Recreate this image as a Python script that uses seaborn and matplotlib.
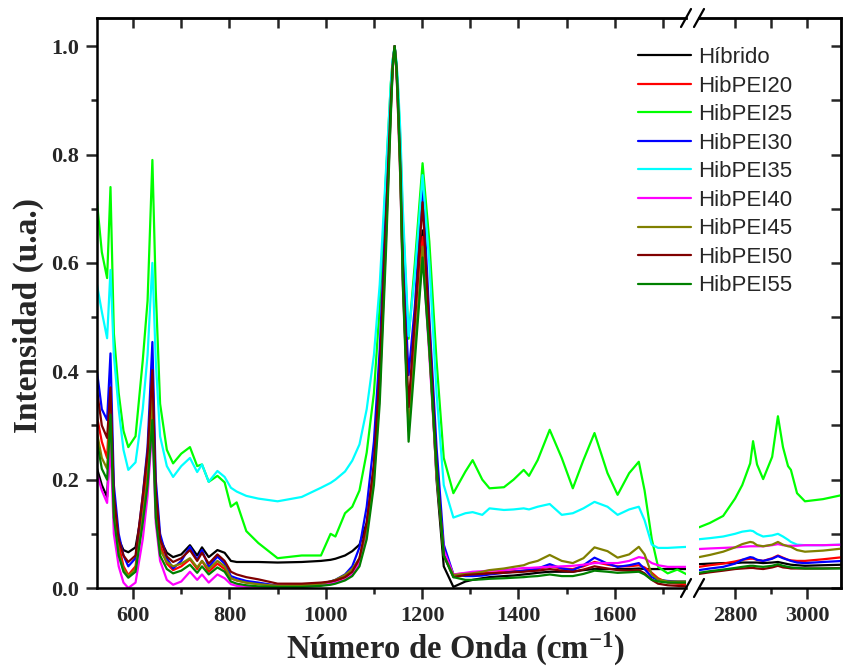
import numpy as np
import pandas as pd
import seaborn as sns
import matplotlib
matplotlib.use("Agg")
import matplotlib.pyplot as plt
from matplotlib.lines import Line2D

# ---------------- data ----------------
names = ["Híbrido", "HibPEI20", "HibPEI25", "HibPEI30", "HibPEI35",
         "HibPEI40", "HibPEI45", "HibPEI50", "HibPEI55"]
colors = ["#000000", "#FF0000", "#00FF00", "#0000FF", "#00FFFF",
          "#FF00FF", "#808000", "#800000", "#008000"]

x_left = [522, 535, 546, 553, 560, 570, 580, 590, 605, 620, 630, 640, 647, 656,
          670, 683, 700, 718, 733, 743, 757, 775, 790, 803, 815, 835, 860, 900,
          950, 990, 1010, 1020, 1040, 1055, 1070, 1085, 1100, 1112, 1125, 1135,
          1139, 1143, 1147, 1150, 1155, 1160, 1172, 1185, 1201, 1215, 1230, 1245, 1265, 1290, 1305,
          1325, 1340, 1370, 1390, 1411, 1422, 1440, 1465, 1490, 1513, 1535, 1558,
          1585, 1606, 1630, 1650, 1662, 1677, 1690, 1710, 1730, 1752]

hibrido_l = [0.23, 0.19, 0.168, 0.30, 0.14, 0.09, 0.07, 0.066, 0.075, 0.15, 0.21, 0.33, 0.16, 0.09,
             0.065, 0.057, 0.062, 0.079, 0.06, 0.075, 0.057, 0.07, 0.065, 0.05, 0.048, 0.048, 0.048, 0.047,
             0.048, 0.05, 0.052, 0.054, 0.06, 0.068, 0.08, 0.12, 0.22, 0.38, 0.66, 0.89,
             0.965, 1.0, 0.955, 0.89, 0.77, 0.58, 0.30, 0.46, 0.66, 0.46, 0.20, 0.04, 0.002, 0.012, 0.015,
             0.018, 0.02, 0.022, 0.023, 0.025, 0.026, 0.028, 0.03, 0.03, 0.03, 0.033, 0.035,
             0.035, 0.035, 0.035, 0.036, 0.035, 0.035, 0.035, 0.035, 0.035, 0.035]
pei20_l = [0.33, 0.27, 0.24, 0.37, 0.16, 0.08, 0.04, 0.024, 0.04, 0.14, 0.22, 0.378, 0.16, 0.08,
           0.045, 0.033, 0.04, 0.053, 0.035, 0.05, 0.03, 0.045, 0.035, 0.018, 0.014, 0.01, 0.008, 0.004,
           0.005, 0.008, 0.01, 0.012, 0.02, 0.03, 0.05, 0.11, 0.22, 0.38, 0.66, 0.89,
           0.965, 1.0, 0.955, 0.89, 0.77, 0.58, 0.297, 0.45, 0.648, 0.45, 0.22, 0.07, 0.025, 0.027, 0.028,
           0.027, 0.028, 0.03, 0.031, 0.032, 0.033, 0.035, 0.04, 0.036, 0.035, 0.04, 0.048,
           0.043, 0.04, 0.04, 0.042, 0.038, 0.028, 0.018, 0.01, 0.008, 0.007]
pei25_l = [0.74, 0.62, 0.572, 0.74, 0.47, 0.36, 0.29, 0.26, 0.28, 0.42, 0.53, 0.79, 0.55, 0.34,
           0.255, 0.23, 0.248, 0.26, 0.225, 0.228, 0.196, 0.207, 0.195, 0.15, 0.158, 0.105, 0.083, 0.055,
           0.06, 0.06, 0.10, 0.095, 0.138, 0.15, 0.18, 0.25, 0.36, 0.52, 0.76, 0.93,
           0.975, 1.0, 0.965, 0.92, 0.82, 0.68, 0.46, 0.60, 0.784, 0.64, 0.42, 0.24, 0.175, 0.215, 0.236,
           0.20, 0.184, 0.186, 0.20, 0.218, 0.207, 0.236, 0.292, 0.24, 0.184, 0.236, 0.286,
           0.212, 0.172, 0.212, 0.233, 0.18, 0.09, 0.039, 0.027, 0.034, 0.024]
pei30_l = [0.42, 0.33, 0.31, 0.433, 0.19, 0.10, 0.06, 0.04, 0.055, 0.17, 0.26, 0.454, 0.20, 0.10,
           0.055, 0.036, 0.05, 0.076, 0.052, 0.07, 0.039, 0.058, 0.045, 0.022, 0.018, 0.013, 0.01, 0.004,
           0.004, 0.008, 0.012, 0.015, 0.025, 0.04, 0.075, 0.15, 0.27, 0.44, 0.70, 0.90,
           0.97, 1.0, 0.96, 0.90, 0.79, 0.62, 0.393, 0.52, 0.75, 0.50, 0.26, 0.08, 0.025, 0.022, 0.022,
           0.023, 0.025, 0.028, 0.03, 0.032, 0.033, 0.036, 0.044, 0.036, 0.033, 0.042, 0.056,
           0.045, 0.039, 0.042, 0.046, 0.035, 0.02, 0.015, 0.013, 0.012, 0.012]
pei35_l = [0.575, 0.51, 0.461, 0.587, 0.43, 0.33, 0.255, 0.218, 0.232, 0.33, 0.43, 0.60, 0.42, 0.28,
           0.225, 0.205, 0.225, 0.24, 0.214, 0.228, 0.196, 0.216, 0.205, 0.185, 0.178, 0.17, 0.165, 0.16,
           0.168, 0.185, 0.194, 0.20, 0.215, 0.235, 0.265, 0.33, 0.43, 0.56, 0.77, 0.93,
           0.975, 1.0, 0.97, 0.93, 0.84, 0.70, 0.465, 0.58, 0.762, 0.60, 0.36, 0.19, 0.13, 0.138, 0.14,
           0.135, 0.147, 0.144, 0.145, 0.147, 0.145, 0.15, 0.155, 0.135, 0.138, 0.147, 0.159,
           0.15, 0.135, 0.145, 0.15, 0.125, 0.08, 0.074, 0.074, 0.075, 0.076]
pei40_l = [0.22, 0.18, 0.157, 0.27, 0.10, 0.04, 0.01, 0.0, 0.01, 0.09, 0.17, 0.30, 0.12, 0.05,
           0.015, 0.006, 0.012, 0.03, 0.015, 0.025, 0.01, 0.025, 0.018, 0.007, 0.004, 0.002, 0.001, 0.001,
           0.002, 0.005, 0.008, 0.01, 0.015, 0.025, 0.045, 0.10, 0.20, 0.36, 0.64, 0.88,
           0.96, 1.0, 0.95, 0.88, 0.75, 0.56, 0.30, 0.44, 0.62, 0.43, 0.21, 0.07, 0.025, 0.028, 0.03,
           0.031, 0.032, 0.033, 0.035, 0.037, 0.037, 0.038, 0.039, 0.04, 0.041, 0.043, 0.046,
           0.046, 0.046, 0.05, 0.057, 0.055, 0.046, 0.042, 0.039, 0.039, 0.039]
pei45_l = [0.30, 0.24, 0.22, 0.33, 0.14, 0.065, 0.035, 0.022, 0.035, 0.13, 0.20, 0.35, 0.15, 0.07,
           0.048, 0.04, 0.045, 0.055, 0.038, 0.05, 0.035, 0.05, 0.04, 0.018, 0.014, 0.01, 0.007, 0.004,
           0.005, 0.008, 0.012, 0.015, 0.024, 0.035, 0.055, 0.11, 0.21, 0.37, 0.65, 0.88,
           0.96, 1.0, 0.95, 0.88, 0.75, 0.57, 0.29, 0.44, 0.63, 0.44, 0.21, 0.06, 0.024, 0.026, 0.027,
           0.03, 0.033, 0.036, 0.039, 0.042, 0.046, 0.05, 0.061, 0.05, 0.046, 0.055, 0.075,
           0.068, 0.056, 0.062, 0.076, 0.062, 0.025, 0.016, 0.012, 0.012, 0.012]
pei50_l = [0.384, 0.30, 0.277, 0.37, 0.17, 0.09, 0.06, 0.048, 0.06, 0.17, 0.25, 0.402, 0.18, 0.09,
           0.058, 0.048, 0.055, 0.07, 0.05, 0.065, 0.045, 0.062, 0.05, 0.03, 0.025, 0.02, 0.016, 0.008,
           0.008, 0.01, 0.012, 0.014, 0.02, 0.03, 0.055, 0.12, 0.23, 0.40, 0.68, 0.90,
           0.965, 1.0, 0.96, 0.90, 0.78, 0.60, 0.334, 0.50, 0.712, 0.48, 0.23, 0.06, 0.02, 0.024, 0.025,
           0.026, 0.027, 0.028, 0.029, 0.03, 0.031, 0.032, 0.035, 0.032, 0.03, 0.034, 0.04,
           0.036, 0.033, 0.032, 0.033, 0.027, 0.015, 0.008, 0.005, 0.004, 0.003]
pei55_l = [0.286, 0.22, 0.20, 0.32, 0.13, 0.06, 0.03, 0.019, 0.03, 0.12, 0.19, 0.31, 0.13, 0.06,
           0.035, 0.027, 0.032, 0.043, 0.028, 0.04, 0.025, 0.038, 0.03, 0.012, 0.008, 0.005, 0.003, 0.002,
           0.002, 0.004, 0.006, 0.008, 0.014, 0.022, 0.04, 0.09, 0.19, 0.34, 0.62, 0.87,
           0.96, 1.0, 0.96, 0.90, 0.76, 0.56, 0.27, 0.42, 0.61, 0.44, 0.22, 0.06, 0.02, 0.015, 0.015,
           0.016, 0.017, 0.018, 0.019, 0.02, 0.021, 0.022, 0.025, 0.022, 0.022, 0.026, 0.032,
           0.03, 0.028, 0.029, 0.03, 0.025, 0.015, 0.012, 0.01, 0.01, 0.01]

x_right = [2700, 2730, 2767, 2800, 2820, 2842, 2850, 2861, 2878, 2903, 2919, 2933,
           2947, 2955, 2972, 2994, 3044, 3100]
hibrido_r = [0.044, 0.045, 0.046, 0.046, 0.047, 0.047, 0.047, 0.047, 0.046, 0.047, 0.048, 0.046,
             0.044, 0.043, 0.042, 0.041, 0.042, 0.043]
pei20_r = [0.039, 0.042, 0.045, 0.049, 0.052, 0.054, 0.054, 0.052, 0.05, 0.055, 0.06, 0.056,
           0.052, 0.051, 0.05, 0.05, 0.053, 0.057]
pei25_r = [0.112, 0.12, 0.133, 0.165, 0.19, 0.23, 0.271, 0.228, 0.201, 0.242, 0.317, 0.26,
           0.225, 0.218, 0.175, 0.16, 0.164, 0.172]
pei30_r = [0.033, 0.036, 0.039, 0.045, 0.052, 0.057, 0.056, 0.052, 0.05, 0.054, 0.059, 0.055,
           0.052, 0.05, 0.047, 0.046, 0.048, 0.05]
pei35_r = [0.09, 0.092, 0.095, 0.10, 0.104, 0.106, 0.105, 0.10, 0.095, 0.097, 0.10, 0.095,
           0.089, 0.085, 0.08, 0.079, 0.079, 0.08]
pei40_r = [0.072, 0.073, 0.074, 0.075, 0.076, 0.077, 0.077, 0.077, 0.077, 0.079, 0.081, 0.079,
           0.078, 0.078, 0.078, 0.079, 0.079, 0.08]
pei45_r = [0.057, 0.061, 0.067, 0.075, 0.081, 0.085, 0.084, 0.079, 0.077, 0.08, 0.085, 0.08,
           0.077, 0.076, 0.07, 0.067, 0.069, 0.073]
pei50_r = [0.026, 0.029, 0.032, 0.035, 0.036, 0.037, 0.037, 0.036, 0.035, 0.038, 0.041, 0.038,
           0.037, 0.036, 0.036, 0.036, 0.036, 0.037]
pei55_r = [0.028, 0.031, 0.034, 0.037, 0.039, 0.041, 0.041, 0.04, 0.039, 0.041, 0.044, 0.041,
           0.039, 0.038, 0.037, 0.036, 0.036, 0.036]

left_series = [hibrido_l, pei20_l, pei25_l, pei30_l, pei35_l, pei40_l, pei45_l, pei50_l, pei55_l]
right_series = [hibrido_r, pei20_r, pei25_r, pei30_r, pei35_r, pei40_r, pei45_r, pei50_r, pei55_r]

xticks_left_major = [600, 800, 1000, 1200, 1400, 1600]
xticks_right_major = [2800, 3000]
yticks_major = [0.0, 0.2, 0.4, 0.6, 0.8, 1.0]

df_left = pd.concat([pd.DataFrame({"x": x_left, "y": s, "muestra": n})
                     for n, s in zip(names, left_series)], ignore_index=True)
df_right = pd.concat([pd.DataFrame({"x": x_right, "y": s, "muestra": n})
                      for n, s in zip(names, right_series)], ignore_index=True)

# ---------------- style ----------------
sns.set_style("ticks")
plt.rcParams["font.family"] = ["Liberation Serif", "DejaVu Serif"]
plt.rcParams["mathtext.fontset"] = "custom"
plt.rcParams["mathtext.rm"] = "Liberation Serif:bold"
plt.rcParams["mathtext.it"] = "Liberation Serif:bold"
plt.rcParams["mathtext.bf"] = "Liberation Serif:bold"

W, H = 843, 668
fig = plt.figure(figsize=(W / 100, H / 100), dpi=100)

def fx(px):
    return px / W

def fy(py):
    return 1 - py / H

L0, L1, R0, R1, T, B = 97, 686, 699, 841, 18, 588
axL = fig.add_axes([fx(L0), fy(B), fx(L1) - fx(L0), fy(T) - fy(B)])
axR = fig.add_axes([fx(R0), fy(B), fx(R1) - fx(R0), fy(T) - fy(B)])

palette = dict(zip(names, colors))
sns.lineplot(data=df_left, x="x", y="y", hue="muestra", hue_order=names, palette=palette,
             estimator=None, sort=False, legend=False, linewidth=1.6, ax=axL)
sns.lineplot(data=df_right, x="x", y="y", hue="muestra", hue_order=names, palette=palette,
             estimator=None, sort=False, legend=False, linewidth=1.6, ax=axR)

ymax = 1.052
axL.set_xlim(525, 1748)
axR.set_xlim(2700, 3094)
for ax in (axL, axR):
    ax.set_ylim(0, ymax)
    ax.set_xlabel("")
    ax.set_ylabel("")
    for sp in ax.spines.values():
        sp.set_linewidth(1.8)
        sp.set_color("black")

axL.spines["right"].set_visible(False)
axR.spines["left"].set_visible(False)

tick_font = dict(fontsize=16, fontweight="bold", family="Liberation Serif")

# left axes ticks
axL.set_xticks(xticks_left_major)
axL.set_xticks(np.arange(700, 1701, 200), minor=True)
axL.set_yticks(yticks_major)
axL.set_yticks(np.arange(0.1, 1.0, 0.2), minor=True)
axL.set_xticklabels([str(v) for v in xticks_left_major], **tick_font)
axL.set_yticklabels([f"{v:.1f}" for v in yticks_major], **tick_font)
axL.tick_params(axis="both", which="major", direction="out", length=8, width=1.8, pad=5)
axL.tick_params(axis="both", which="minor", direction="out", length=4.5, width=1.8)
axL.tick_params(axis="y", right=False, which="both")

# right axes ticks
axR.set_xticks(xticks_right_major)
axR.set_xticks([2900], minor=True)
axR.set_xticklabels([str(v) for v in xticks_right_major], **tick_font)
axR.tick_params(axis="x", which="major", direction="out", length=8, width=1.8, pad=5)
axR.tick_params(axis="x", which="minor", direction="out", length=4.5, width=1.8)
axR.tick_params(axis="y", which="both", left=False, labelleft=False)

# top inward ticks
secL = axL.secondary_xaxis("top")
secL.set_xticks(np.arange(600, 1701, 100))
secL.tick_params(direction="in", length=7, width=1.8, labeltop=False)
secL.spines["top"].set_linewidth(1.8)
secR = axR.secondary_xaxis("top")
secR.set_xticks([2800, 2900, 3000])
secR.tick_params(direction="in", length=7, width=1.8, labeltop=False)
secR.spines["top"].set_linewidth(1.8)
# right inward ticks
secY = axR.secondary_yaxis("right")
secY.set_yticks(np.arange(0.0, 1.01, 0.1))
secY.tick_params(direction="in", length=7, width=1.8, labelright=False)
secY.spines["right"].set_linewidth(1.8)

# axis break marks
for cx in (L1, R0):
    for cy in (T, B):
        fig.add_artist(Line2D([fx(cx - 5), fx(cx + 5)], [fy(cy + 9), fy(cy - 9)],
                              color="black", linewidth=1.6, transform=fig.transFigure))

# axis labels
fig.text(fx(455), fy(649), "Número de Onda (cm$^{-1}$)", ha="center", va="center",
         fontsize=23.5, fontweight="bold", family="Liberation Serif")
fig.text(fx(28), fy(315), "Intensidad (u.a.)", ha="center", va="center", rotation=90,
         fontsize=24, fontweight="bold", family="Liberation Serif")

# legend
handles = [Line2D([0], [0], color=c, linewidth=1.6) for c in colors]
fig.legend(handles, names, loc="upper left", bbox_to_anchor=(fx(638), fy(47)),
           frameon=False, borderpad=0, borderaxespad=0, handlelength=2.4,
           handletextpad=0.3, labelspacing=0.34,
           prop={"family": "Liberation Sans", "size": 16})

fig.savefig("out.png", dpi=100)
